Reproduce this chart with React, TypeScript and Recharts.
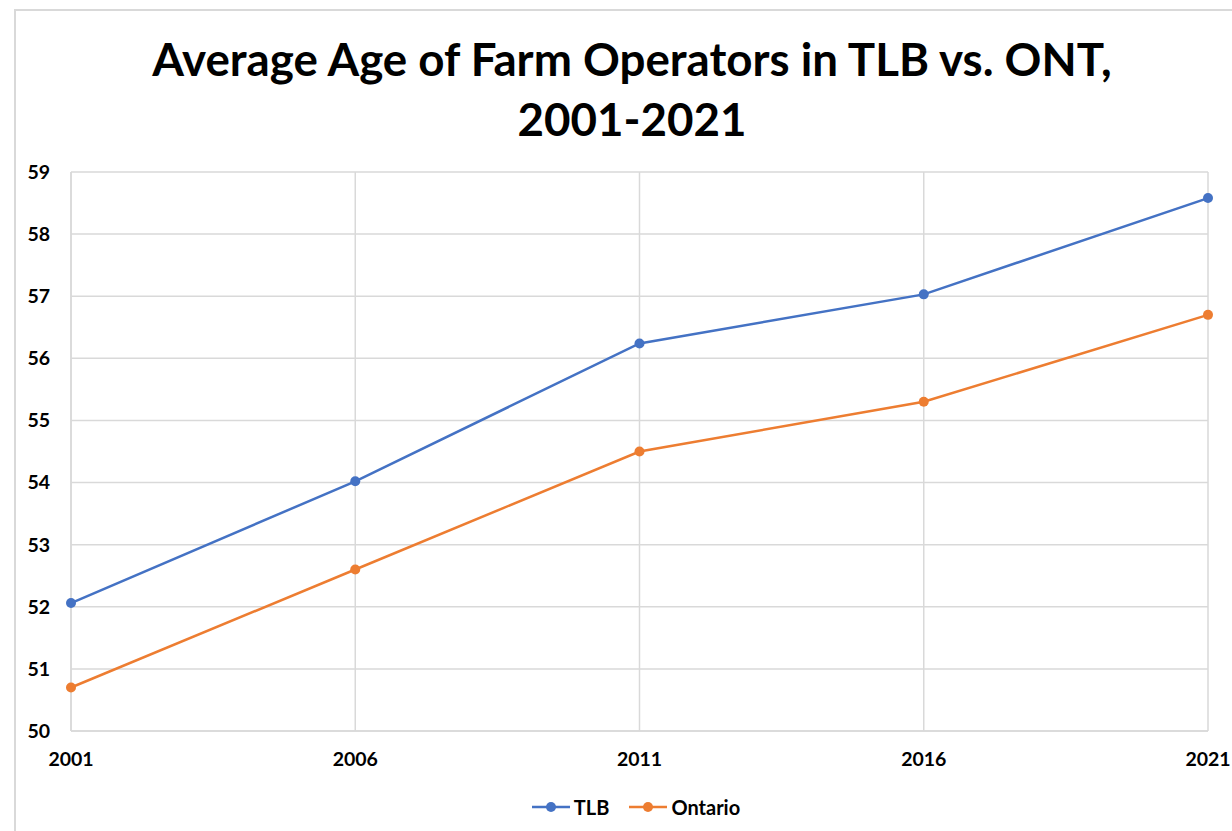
import { LineChart, Line, XAxis, YAxis, CartesianGrid, Legend } from 'recharts';

const YEARS = ['2001', '2006', '2011', '2016', '2021'];
const TLB = [52.06, 54.02, 56.24, 57.03, 58.58];
const ONTARIO = [50.7, 52.6, 54.5, 55.3, 56.7];
const Y_TICKS = [50, 51, 52, 53, 54, 55, 56, 57, 58, 59];

const SERIES = [
  { key: 'tlb', name: 'TLB', color: '#4472C4' },
  { key: 'ontario', name: 'Ontario', color: '#ED7D31' },
];

const data = YEARS.map((year, i) => ({ year, tlb: TLB[i], ontario: ONTARIO[i] }));

const FONT = 'Lato, "Open Sans", sans-serif';

function LegendContent() {
  return (
    <div style={{ display: 'flex', justifyContent: 'center', gap: 20, fontFamily: FONT, fontWeight: 700, fontSize: 20, color: '#000', paddingLeft: 64 }}>
      {SERIES.map((s) => (
        <div key={s.key} style={{ display: 'flex', alignItems: 'center', gap: 4 }}>
          <svg width={38} height={12}>
            <line x1={0} y1={6} x2={38} y2={6} stroke={s.color} strokeWidth={2.5} />
            <circle cx={19} cy={6} r={5} fill={s.color} />
          </svg>
          <span>{s.name}</span>
        </div>
      ))}
    </div>
  );
}

export default function App() {
  return (
    <div style={{ position: 'absolute', left: 0, top: 0, width: 1232, height: 831, overflow: 'hidden', background: '#fff' }}>
      <div style={{ position: 'absolute', left: 14, top: 9, width: 1300, height: 900, borderLeft: '2px solid #d9d9d9', borderTop: '2px solid #d9d9d9' }} />
      <div style={{ position: 'absolute', left: 0, top: 29, width: 1264, textAlign: 'center', fontFamily: FONT, fontWeight: 700, fontSize: 45.7, lineHeight: '60px', color: '#000' }}>
        Average Age of Farm Operators in TLB vs. ONT,
        <br />
        2001-2021
      </div>
      <div style={{ position: 'absolute', left: 0, top: 0 }}>
        <LineChart width={1232} height={831} data={data} margin={{ top: 172, right: 24, bottom: 0, left: 0 }}>
          <CartesianGrid stroke="#d9d9d9" strokeWidth={1.5} vertical horizontal />
          <XAxis
            dataKey="year"
            padding={{ left: 0, right: 0 }}
            axisLine={{ stroke: '#d9d9d9', strokeWidth: 1.5 }}
            tickLine={false}
            tickSize={0}
            tickMargin={21}
            height={76}
            interval={0}
            tick={{ fill: '#000', fontSize: 19.5, fontWeight: 700, fontFamily: FONT }}
          />
          <YAxis
            domain={[50, 59]}
            ticks={Y_TICKS}
            width={71}
            axisLine={{ stroke: '#d9d9d9', strokeWidth: 1.5 }}
            tickLine={false}
            tickSize={0}
            tickMargin={21}
            tick={{ fill: '#000', fontSize: 19.5, fontWeight: 700, fontFamily: FONT }}
          />
          {SERIES.map((s) => (
            <Line
              key={s.key}
              type="linear"
              dataKey={s.key}
              name={s.name}
              stroke={s.color}
              strokeWidth={2.5}
              dot={{ r: 5, fill: s.color, stroke: s.color, strokeWidth: 0 }}
              activeDot={false}
              isAnimationActive={false}
            />
          ))}
          <Legend verticalAlign="bottom" content={LegendContent} wrapperStyle={{ bottom: 12 }} />
        </LineChart>
      </div>
    </div>
  );
}
